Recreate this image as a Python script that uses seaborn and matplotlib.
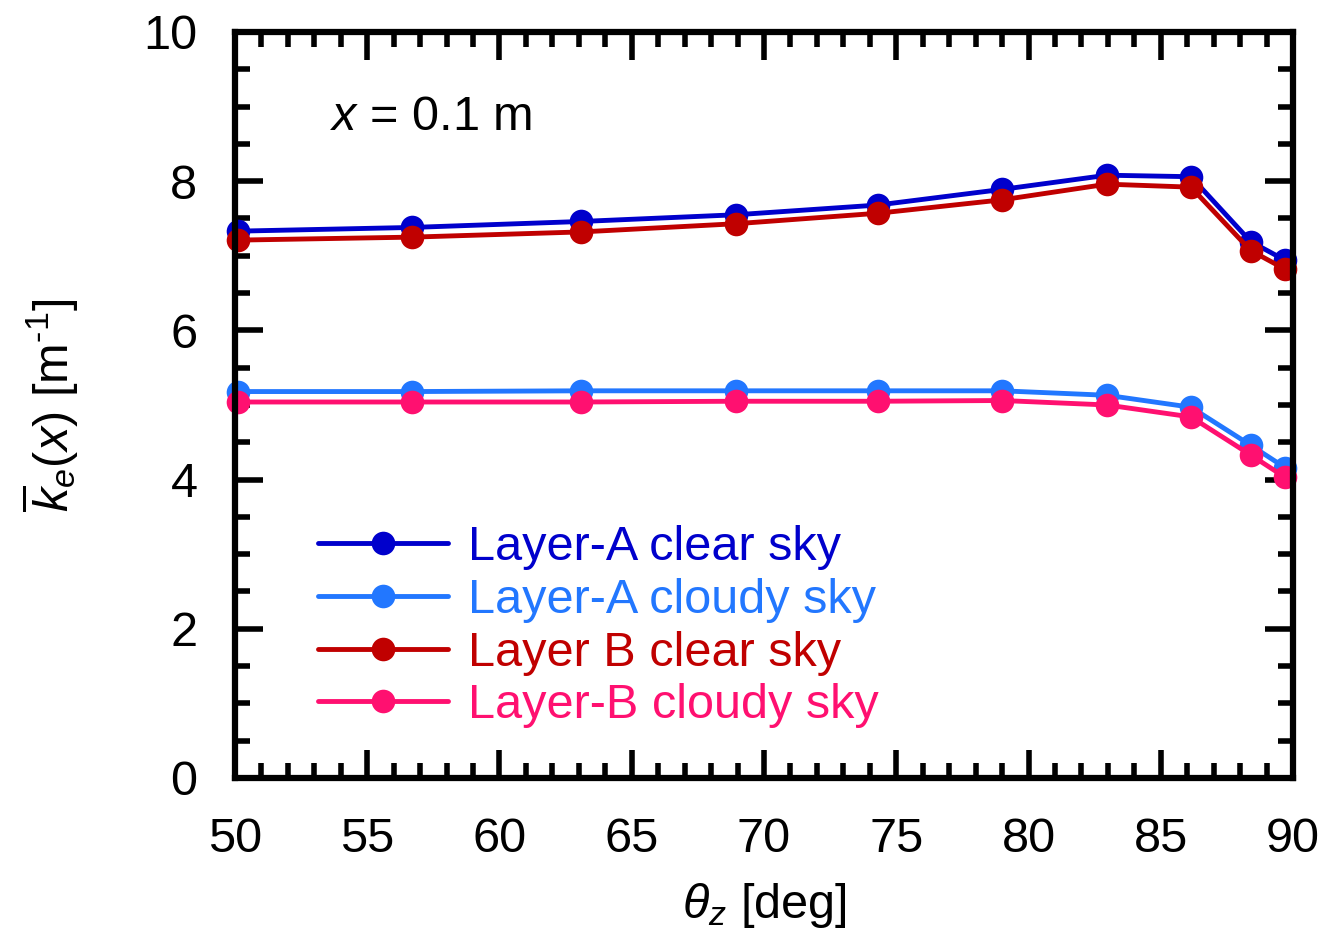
import pandas as pd
import seaborn as sns
import matplotlib.pyplot as plt
from matplotlib.ticker import MultipleLocator

# valores
theta = [50.1, 56.7, 63.1, 68.95, 74.3, 79.0, 82.97, 86.14, 88.4, 89.7]
a_claro = [7.33, 7.38, 7.46, 7.55, 7.68, 7.89, 8.08, 8.06, 7.19, 6.94]
a_nuvem = [5.18, 5.18, 5.19, 5.19, 5.19, 5.19, 5.13, 4.97, 4.46, 4.16]
b_claro = [7.21, 7.25, 7.32, 7.43, 7.57, 7.75, 7.96, 7.92, 7.07, 6.82]
b_nuvem = [5.04, 5.04, 5.04, 5.05, 5.05, 5.06, 5.00, 4.84, 4.33, 4.03]

nomes = ['Layer-A clear sky', 'Layer-A cloudy sky', 'Layer B clear sky', 'Layer-B cloudy sky']
cores = ['#0000CC', '#2277FF', '#C00000', '#FF1070']

dados = pd.DataFrame({
    'theta': theta * 4,
    'k': a_claro + a_nuvem + b_claro + b_nuvem,
    'serie': sum([[n] * len(theta) for n in nomes], []),
})

sns.set_style('ticks', {'axes.edgecolor': 'black', 'text.color': 'black',
                        'xtick.color': 'black', 'ytick.color': 'black',
                        'axes.labelcolor': 'black'})
plt.rcParams['font.family'] = ['Liberation Sans', 'DejaVu Sans']
plt.rcParams['mathtext.fontset'] = 'custom'
plt.rcParams['mathtext.rm'] = 'Liberation Sans'
plt.rcParams['mathtext.it'] = 'Liberation Sans:italic'

fig = plt.figure(figsize=(13.38, 9.46), dpi=100)
ax = fig.add_axes([0.1756, 0.1776, 0.7908, 0.7886])

for nome, cor in zip(nomes, cores):
    sub = dados[dados['serie'] == nome]
    sns.lineplot(data=sub, x='theta', y='k', color=cor, marker='o', markersize=17,
                 markeredgewidth=0, linewidth=3.5, label=nome, ax=ax, clip_on=False)

ax.set_xlim(50, 90)
ax.set_ylim(0, 10)
ax.xaxis.set_major_locator(MultipleLocator(5))
ax.xaxis.set_minor_locator(MultipleLocator(1))
ax.yaxis.set_major_locator(MultipleLocator(2))
ax.yaxis.set_minor_locator(MultipleLocator(0.5))
ax.tick_params(which='both', direction='in', top=True, right=True, width=4)
ax.tick_params(which='major', length=20, labelsize=35)
ax.tick_params(axis='x', which='major', pad=28)
ax.tick_params(axis='y', which='major', pad=27)
ax.tick_params(which='minor', length=11)
for s in ax.spines.values():
    s.set_linewidth(4.5)

ax.set_xlabel(r'$\theta_z$ [deg]', fontsize=35, labelpad=14)
ax.set_ylabel(r'$\overline{k}_e(x)$ [m$^{\text{-1}}$]', fontsize=35, labelpad=45)
ax.text(53.6, 8.86, r'$x$ = 0.1 m', fontsize=35, va='center')

ax.legend(loc='upper left', bbox_to_anchor=(0.06, 0.365), frameon=False, fontsize=35,
          labelcolor='linecolor', handlelength=2.67, handletextpad=0.42, labelspacing=0.16,
          borderaxespad=0)

plt.savefig('out.png', dpi=100)
